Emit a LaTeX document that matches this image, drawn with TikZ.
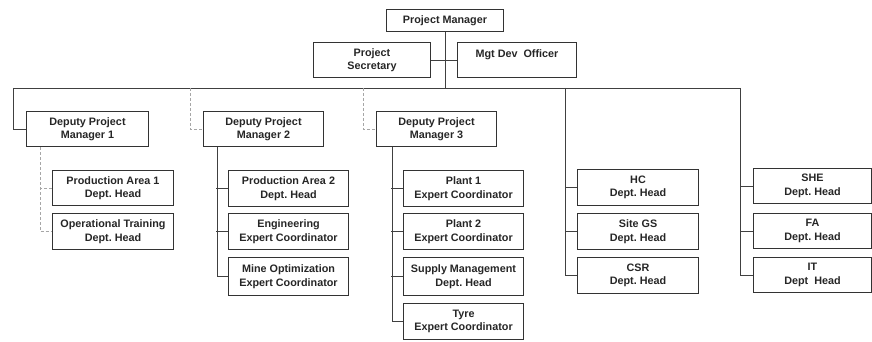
\documentclass[tikz,border=0pt]{standalone}
\usepackage{fontspec}
\setmainfont{Liberation Sans}
\tikzset{
  box/.style={draw=black!80, line width=1pt, minimum width=120pt, minimum height=36pt,
    align=center, anchor=north west, inner sep=1pt, text=black!85,
    font=\fontsize{10.8}{13.5}\selectfont\bfseries},
  link/.style={draw=black!75, line width=0.9pt},
  faint/.style={draw=black!35, line width=0.7pt, densely dashed},
}
\begin{document}
\begin{tikzpicture}[x=1pt,y=-1pt]
\useasboundingbox (0,0) rectangle (872,342);
% top
\node [box, minimum width=117pt, minimum height=22pt] (pm) at (386,9) {Project Manager};
\node [box, minimum width=117pt, minimum height=35pt] (sec) at (313,42) {Project\\Secretary};
\node [box, minimum width=119pt, minimum height=35pt] (mgt) at (457,42) {Mgt Dev\ \ Officer\\\phantom{X}};
% deputies
\node [box, minimum width=122pt, minimum height=35pt] (dpm1) at (26,111) {Deputy Project\\Manager 1};
\node [box, minimum height=35pt] (dpm2) at (203,111) {Deputy Project\\Manager 2};
\node [box, minimum height=35pt] (dpm3) at (376,111) {Deputy Project\\Manager 3};
% columns
\node [box, minimum width=121pt, minimum height=35pt] (pa1) at (52,170) {Production Area 1\\Dept.\ Head};
\node [box, minimum width=121pt] (ot) at (52,213) {Operational Training\\Dept.\ Head};
\node [box] (pa2) at (228,170) {Production Area 2\\Dept.\ Head};
\node [box] (eng) at (228,213) {Engineering\\Expert Coordinator};
\node [box, minimum height=38pt] (mine) at (228,257) {Mine Optimization\\Expert Coordinator};
\node [box] (p1) at (403,170) {Plant 1\\Expert Coordinator};
\node [box] (p2) at (403,213) {Plant 2\\Expert Coordinator};
\node [box, minimum height=38pt] (sup) at (403,257) {Supply Management\\Dept.\ Head};
\node [box] (tyre) at (403,303) {Tyre\\Expert Coordinator};
\node [box, minimum width=121pt] (hc) at (577,169) {HC\\Dept.\ Head};
\node [box, minimum width=121pt] (gs) at (577,213) {Site GS\\Dept.\ Head};
\node [box, minimum width=121pt] (csr) at (577,257) {CSR\\Dept.\ Head};
\node [box, minimum width=118pt, minimum height=35pt] (she) at (753,168) {SHE\\Dept.\ Head};
\node [box, minimum width=118pt, minimum height=35pt] (fa) at (753,213) {FA\\Dept.\ Head};
\node [box, minimum width=118pt, minimum height=35pt] (it) at (753,257) {IT\\Dept\ \ Head};
% connectors
\coordinate (busL) at (13,88);
\coordinate (busR) at (740,88);
\coordinate (d2) at (190,88);
\coordinate (d3) at (363,88);
\coordinate (t4) at (565,88);
\draw [link] (pm.south) -- (pm.south |- busL);
\draw [link] (sec.east) -- (mgt.west);
\draw [link] (busL) -- (busR);
\draw [link] (busL) |- (dpm1.west);
\draw [faint] (d2) |- (dpm2.west);
\draw [faint] (d3) |- (dpm3.west);
\draw [faint] (dpm1.south west) ++(14,0) |- (ot.west);
\draw [faint] (pa1.west) -- ++(-12,0);
\draw [link] (dpm2.south west) ++(14,0) |- (mine.west);
\draw [link] (dpm3.south west) ++(16,0) |- (tyre.west);
\draw [link] (t4) |- (csr.west);
\draw [link] (busR) |- (it.west);
\foreach \n in {pa2,eng,p1,p2,sup,hc,gs,she,fa}
  \draw [link] (\n.west) -- ++(-12,0);
\end{tikzpicture}
\end{document}
